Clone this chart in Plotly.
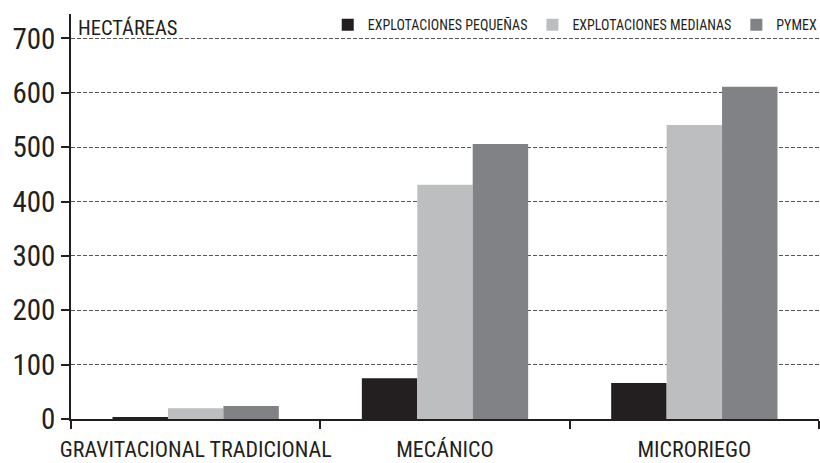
import plotly.graph_objects as go

categories = ["GRAVITACIONAL TRADICIONAL", "MECÁNICO", "MICRORIEGO"]
pequenas = [3, 75, 66]
medianas = [20, 431, 541]
pymex = [24, 506, 611]
series_names = ["EXPLOTACIONES PEQUEÑAS", "EXPLOTACIONES MEDIANAS", "PYMEX"]
colors = ["#231f20", "#bcbec0", "#808285"]
y_ticks = [0, 100, 200, 300, 400, 500, 600, 700]

FONT = "Liberation Sans Narrow, Arial Narrow, Roboto Condensed, Arial, sans-serif"

fig = go.Figure()
for name, vals, col in zip(series_names, [pequenas, medianas, pymex], colors):
    fig.add_trace(go.Bar(x=categories, y=vals, name=name, marker=dict(color=col, line=dict(width=0))))

fig.update_layout(
    width=820, height=463,
    margin=dict(l=71, r=1, t=14, b=44, autoexpand=False),
    paper_bgcolor="white", plot_bgcolor="white",
    barmode="group", bargap=0.333, bargroupgap=0,
    font=dict(family=FONT, color="#231f20"),
    legend=dict(orientation="h", x=1.005, xanchor="right", y=1.012, yanchor="top",
                font=dict(size=14, family=FONT, color="#231f20"),
                itemwidth=30, tracegroupgap=0, bgcolor="rgba(0,0,0,0)"),
    xaxis=dict(range=[-0.5, 2.5], tickson="boundaries", ticks="outside", ticklen=8,
               tickcolor="#231f20", tickwidth=1.5, showline=True, linecolor="#231f20",
               linewidth=1.5, showgrid=False, ticklabelstandoff=10, tickangle=0,
               tickfont=dict(size=22, family=FONT, color="#231f20")),
    yaxis=dict(range=[0, 745], tickvals=y_ticks, ticks="outside", ticklen=8,
               tickcolor="#231f20", tickwidth=1.5, showline=True, linecolor="#231f20",
               linewidth=1.5, showgrid=True, gridcolor="#555555", gridwidth=1,
               griddash="4px,2px", zeroline=False, ticklabelstandoff=0,
               tickfont=dict(size=29, family=FONT, color="#231f20")),
    annotations=[dict(text="HECTÁREAS", xref="paper", yref="paper", x=0, y=1,
                      xanchor="left", yanchor="top", xshift=5, showarrow=False,
                      font=dict(size=20.5, family=FONT, color="#231f20"))],
)

fig.write_html("out.html", config={"displayModeBar": False},
               post_script="document.body.style.margin='0';")
